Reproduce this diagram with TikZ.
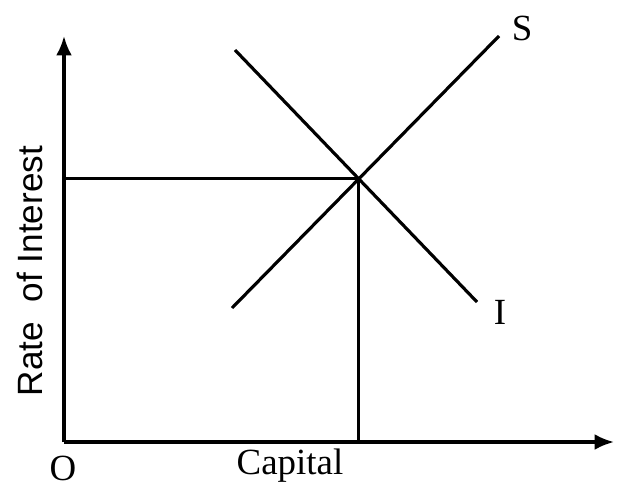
\documentclass[tikz,border=0pt]{standalone}
\usepackage{fontspec}
\setmainfont{Liberation Serif}
\newfontfamily\axisfont{Liberation Sans}
\usepackage{tikz}
\usetikzlibrary{arrows.meta,positioning,calc}
\tikzset{
  axisline/.style ={line width=1.8pt, -{Latex[length=11pt,width=9pt]}},
  curveline/.style={line width=1.8pt},
  guideline/.style={line width=1.7pt},
  curvelbl/.style ={font=\fontsize{21}{23}\selectfont, inner sep=0pt},
  axislbl/.style  ={font=\fontsize{21}{23}\selectfont, inner sep=0pt},
  ratelbl/.style  ={font=\axisfont\fontsize{20}{22}\selectfont, inner sep=0pt,
                    rotate=90},
}

\begin{document}
\begin{tikzpicture}[x=0.02cm,y=-0.02cm]
  \useasboundingbox (0,0) rectangle (617,497);
  % axes
  \coordinate (o) at (64,442);
  \coordinate (ytop) at (64,36);
  \coordinate (xend) at (614,442);
  \draw[axisline] (o.center) -- (ytop);
  \draw[axisline] (o.center) -- (xend);
  % saving and investment schedules
  \coordinate (s0) at (232,308);
  \coordinate (s1) at (499,36);
  \coordinate (i0) at (235,50);
  \coordinate (i1) at (477,302);
  \coordinate (e) at (intersection of s0--s1 and i0--i1);
  \draw[curveline] (s0) -- (s1);
  \draw[curveline] (i0) -- (i1);
  \draw[guideline] (o |- e) -- (e) -- (e |- o);
  % labels
  \node[curvelbl] (slbl) at (522,28) {S};
  \node[curvelbl] (ilbl) at (500,312) {I};
  \node[axislbl] (olbl) at (63,468) {O};
  \node[axislbl] (xlbl) at (290,466) {Capital};
  \node[ratelbl] (ylbl) at (30,271) {Rate\ \ of Interest};
\end{tikzpicture}
\end{document}
